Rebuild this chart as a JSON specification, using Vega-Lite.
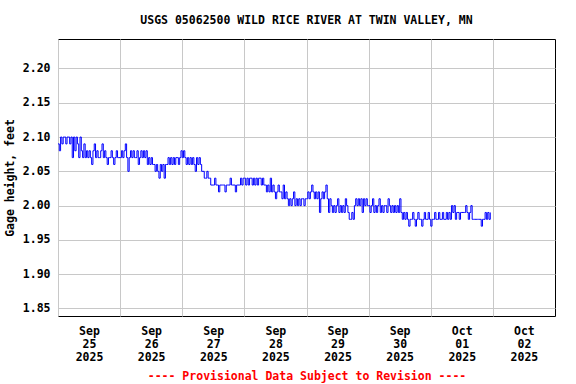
{
  "$schema": "https://vega.github.io/schema/vega-lite/v6.json",
  "width": 497,
  "height": 277,
  "autosize": "none",
  "padding": {"left": 58, "top": 39, "right": 21, "bottom": 68},
  "background": "white",
  "title": {"text": "USGS 05062500 WILD RICE RIVER AT TWIN VALLEY, MN", "font": "DejaVu Sans Mono", "fontSize": 11.5, "fontWeight": "bold", "color": "black", "anchor": "middle", "offset": 13},
  "config": {
    "view": {"stroke": "black", "strokeWidth": 1},
    "axis": {"labelFont": "DejaVu Sans Mono", "labelFontSize": 11.5, "labelFontWeight": "bold", "labelColor": "black", "titleFont": "DejaVu Sans Mono", "titleFontSize": 11.5, "titleFontWeight": "bold", "titleColor": "black", "gridColor": "#c8c8c8", "gridWidth": 1, "ticks": false, "domain": false}
  },
  "data": {"values": [
{"t":"2025-09-25T00:00","v":2.09},{"t":"2025-09-25T00:30","v":2.08},{"t":"2025-09-25T01:00","v":2.10},{"t":"2025-09-25T01:30","v":2.09},
{"t":"2025-09-25T02:00","v":2.10},{"t":"2025-09-25T02:30","v":2.10},{"t":"2025-09-25T03:00","v":2.09},{"t":"2025-09-25T03:30","v":2.10},
{"t":"2025-09-25T04:00","v":2.10},{"t":"2025-09-25T04:30","v":2.09},{"t":"2025-09-25T05:00","v":2.10},{"t":"2025-09-25T05:30","v":2.07},
{"t":"2025-09-25T06:00","v":2.10},{"t":"2025-09-25T06:30","v":2.08},{"t":"2025-09-25T07:00","v":2.10},{"t":"2025-09-25T07:30","v":2.09},
{"t":"2025-09-25T08:00","v":2.07},{"t":"2025-09-25T08:30","v":2.10},{"t":"2025-09-25T09:00","v":2.08},{"t":"2025-09-25T09:30","v":2.07},
{"t":"2025-09-25T10:00","v":2.09},{"t":"2025-09-25T10:30","v":2.07},{"t":"2025-09-25T11:00","v":2.08},{"t":"2025-09-25T11:30","v":2.07},
{"t":"2025-09-25T12:00","v":2.08},{"t":"2025-09-25T12:30","v":2.07},{"t":"2025-09-25T13:00","v":2.06},{"t":"2025-09-25T13:30","v":2.08},
{"t":"2025-09-25T14:00","v":2.09},{"t":"2025-09-25T14:30","v":2.07},{"t":"2025-09-25T15:00","v":2.08},{"t":"2025-09-25T15:30","v":2.07},
{"t":"2025-09-25T16:00","v":2.07},{"t":"2025-09-25T16:30","v":2.08},{"t":"2025-09-25T17:00","v":2.09},{"t":"2025-09-25T17:30","v":2.07},
{"t":"2025-09-25T18:00","v":2.08},{"t":"2025-09-25T18:30","v":2.07},{"t":"2025-09-25T19:00","v":2.06},{"t":"2025-09-25T19:30","v":2.07},
{"t":"2025-09-25T20:00","v":2.07},{"t":"2025-09-25T20:30","v":2.08},{"t":"2025-09-25T21:00","v":2.07},{"t":"2025-09-25T21:30","v":2.06},
{"t":"2025-09-25T22:00","v":2.07},{"t":"2025-09-25T22:30","v":2.08},{"t":"2025-09-25T23:00","v":2.07},{"t":"2025-09-25T23:30","v":2.07},
{"t":"2025-09-26T00:00","v":2.07},{"t":"2025-09-26T00:30","v":2.08},{"t":"2025-09-26T01:00","v":2.07},{"t":"2025-09-26T01:30","v":2.08},
{"t":"2025-09-26T02:00","v":2.09},{"t":"2025-09-26T02:30","v":2.07},{"t":"2025-09-26T03:00","v":2.05},{"t":"2025-09-26T03:30","v":2.07},
{"t":"2025-09-26T04:00","v":2.08},{"t":"2025-09-26T04:30","v":2.07},{"t":"2025-09-26T05:00","v":2.08},{"t":"2025-09-26T05:30","v":2.07},
{"t":"2025-09-26T06:00","v":2.07},{"t":"2025-09-26T06:30","v":2.08},{"t":"2025-09-26T07:00","v":2.06},{"t":"2025-09-26T07:30","v":2.07},
{"t":"2025-09-26T08:00","v":2.08},{"t":"2025-09-26T08:30","v":2.07},{"t":"2025-09-26T09:00","v":2.08},{"t":"2025-09-26T09:30","v":2.07},
{"t":"2025-09-26T10:00","v":2.08},{"t":"2025-09-26T10:30","v":2.06},{"t":"2025-09-26T11:00","v":2.07},{"t":"2025-09-26T11:30","v":2.06},
{"t":"2025-09-26T12:00","v":2.07},{"t":"2025-09-26T12:30","v":2.06},{"t":"2025-09-26T13:00","v":2.06},{"t":"2025-09-26T13:30","v":2.05},
{"t":"2025-09-26T14:00","v":2.06},{"t":"2025-09-26T14:30","v":2.05},{"t":"2025-09-26T15:00","v":2.04},{"t":"2025-09-26T15:30","v":2.06},
{"t":"2025-09-26T16:00","v":2.05},{"t":"2025-09-26T16:30","v":2.06},{"t":"2025-09-26T17:00","v":2.04},{"t":"2025-09-26T17:30","v":2.06},
{"t":"2025-09-26T18:00","v":2.06},{"t":"2025-09-26T18:30","v":2.07},{"t":"2025-09-26T19:00","v":2.06},{"t":"2025-09-26T19:30","v":2.07},
{"t":"2025-09-26T20:00","v":2.06},{"t":"2025-09-26T20:30","v":2.07},{"t":"2025-09-26T21:00","v":2.06},{"t":"2025-09-26T21:30","v":2.07},
{"t":"2025-09-26T22:00","v":2.07},{"t":"2025-09-26T22:30","v":2.06},{"t":"2025-09-26T23:00","v":2.07},{"t":"2025-09-26T23:30","v":2.08},
{"t":"2025-09-27T00:00","v":2.07},{"t":"2025-09-27T00:30","v":2.08},{"t":"2025-09-27T01:00","v":2.07},{"t":"2025-09-27T01:30","v":2.06},
{"t":"2025-09-27T02:00","v":2.07},{"t":"2025-09-27T02:30","v":2.06},{"t":"2025-09-27T03:00","v":2.07},{"t":"2025-09-27T03:30","v":2.06},
{"t":"2025-09-27T04:00","v":2.07},{"t":"2025-09-27T04:30","v":2.06},{"t":"2025-09-27T05:00","v":2.05},{"t":"2025-09-27T05:30","v":2.07},
{"t":"2025-09-27T06:00","v":2.06},{"t":"2025-09-27T06:30","v":2.07},{"t":"2025-09-27T07:00","v":2.06},{"t":"2025-09-27T07:30","v":2.05},
{"t":"2025-09-27T08:00","v":2.05},{"t":"2025-09-27T08:30","v":2.04},{"t":"2025-09-27T09:00","v":2.04},{"t":"2025-09-27T09:30","v":2.05},
{"t":"2025-09-27T10:00","v":2.04},{"t":"2025-09-27T10:30","v":2.04},{"t":"2025-09-27T11:00","v":2.03},{"t":"2025-09-27T11:30","v":2.03},
{"t":"2025-09-27T12:00","v":2.03},{"t":"2025-09-27T12:30","v":2.04},{"t":"2025-09-27T13:00","v":2.03},{"t":"2025-09-27T13:30","v":2.03},
{"t":"2025-09-27T14:00","v":2.02},{"t":"2025-09-27T14:30","v":2.03},{"t":"2025-09-27T15:00","v":2.03},{"t":"2025-09-27T15:30","v":2.03},
{"t":"2025-09-27T16:00","v":2.03},{"t":"2025-09-27T16:30","v":2.02},{"t":"2025-09-27T17:00","v":2.03},{"t":"2025-09-27T17:30","v":2.03},
{"t":"2025-09-27T18:00","v":2.03},{"t":"2025-09-27T18:30","v":2.04},{"t":"2025-09-27T19:00","v":2.03},{"t":"2025-09-27T19:30","v":2.03},
{"t":"2025-09-27T20:00","v":2.03},{"t":"2025-09-27T20:30","v":2.02},{"t":"2025-09-27T21:00","v":2.03},{"t":"2025-09-27T21:30","v":2.03},
{"t":"2025-09-27T22:00","v":2.03},{"t":"2025-09-27T22:30","v":2.04},{"t":"2025-09-27T23:00","v":2.03},{"t":"2025-09-27T23:30","v":2.04},
{"t":"2025-09-28T00:00","v":2.04},{"t":"2025-09-28T00:30","v":2.03},{"t":"2025-09-28T01:00","v":2.04},{"t":"2025-09-28T01:30","v":2.03},
{"t":"2025-09-28T02:00","v":2.04},{"t":"2025-09-28T02:30","v":2.04},{"t":"2025-09-28T03:00","v":2.03},{"t":"2025-09-28T03:30","v":2.04},
{"t":"2025-09-28T04:00","v":2.03},{"t":"2025-09-28T04:30","v":2.04},{"t":"2025-09-28T05:00","v":2.03},{"t":"2025-09-28T05:30","v":2.04},
{"t":"2025-09-28T06:00","v":2.04},{"t":"2025-09-28T06:30","v":2.03},{"t":"2025-09-28T07:00","v":2.04},{"t":"2025-09-28T07:30","v":2.03},
{"t":"2025-09-28T08:00","v":2.03},{"t":"2025-09-28T08:30","v":2.02},{"t":"2025-09-28T09:00","v":2.03},{"t":"2025-09-28T09:30","v":2.02},
{"t":"2025-09-28T10:00","v":2.04},{"t":"2025-09-28T10:30","v":2.02},{"t":"2025-09-28T11:00","v":2.03},{"t":"2025-09-28T11:30","v":2.02},
{"t":"2025-09-28T12:00","v":2.01},{"t":"2025-09-28T12:30","v":2.02},{"t":"2025-09-28T13:00","v":2.03},{"t":"2025-09-28T13:30","v":2.02},
{"t":"2025-09-28T14:00","v":2.02},{"t":"2025-09-28T14:30","v":2.01},{"t":"2025-09-28T15:00","v":2.03},{"t":"2025-09-28T15:30","v":2.01},
{"t":"2025-09-28T16:00","v":2.02},{"t":"2025-09-28T16:30","v":2.01},{"t":"2025-09-28T17:00","v":2.00},{"t":"2025-09-28T17:30","v":2.01},
{"t":"2025-09-28T18:00","v":2.00},{"t":"2025-09-28T18:30","v":2.01},{"t":"2025-09-28T19:00","v":2.02},{"t":"2025-09-28T19:30","v":2.00},
{"t":"2025-09-28T20:00","v":2.01},{"t":"2025-09-28T20:30","v":2.00},{"t":"2025-09-28T21:00","v":2.01},{"t":"2025-09-28T21:30","v":2.00},
{"t":"2025-09-28T22:00","v":2.01},{"t":"2025-09-28T22:30","v":2.01},{"t":"2025-09-28T23:00","v":2.00},{"t":"2025-09-28T23:30","v":2.01},
{"t":"2025-09-29T00:00","v":2.01},{"t":"2025-09-29T00:30","v":2.02},{"t":"2025-09-29T01:00","v":2.01},{"t":"2025-09-29T01:30","v":2.02},
{"t":"2025-09-29T02:00","v":2.03},{"t":"2025-09-29T02:30","v":2.02},{"t":"2025-09-29T03:00","v":2.01},{"t":"2025-09-29T03:30","v":2.02},
{"t":"2025-09-29T04:00","v":2.01},{"t":"2025-09-29T04:30","v":2.02},{"t":"2025-09-29T05:00","v":1.99},{"t":"2025-09-29T05:30","v":2.01},
{"t":"2025-09-29T06:00","v":2.02},{"t":"2025-09-29T06:30","v":2.01},{"t":"2025-09-29T07:00","v":2.02},{"t":"2025-09-29T07:30","v":2.03},
{"t":"2025-09-29T08:00","v":2.01},{"t":"2025-09-29T08:30","v":1.99},{"t":"2025-09-29T09:00","v":2.01},{"t":"2025-09-29T09:30","v":2.00},
{"t":"2025-09-29T10:00","v":1.99},{"t":"2025-09-29T10:30","v":2.00},{"t":"2025-09-29T11:00","v":1.99},{"t":"2025-09-29T11:30","v":2.00},
{"t":"2025-09-29T12:00","v":2.01},{"t":"2025-09-29T12:30","v":1.99},{"t":"2025-09-29T13:00","v":2.00},{"t":"2025-09-29T13:30","v":1.99},
{"t":"2025-09-29T14:00","v":2.00},{"t":"2025-09-29T14:30","v":1.99},{"t":"2025-09-29T15:00","v":2.01},{"t":"2025-09-29T15:30","v":2.00},
{"t":"2025-09-29T16:00","v":1.99},{"t":"2025-09-29T16:30","v":1.98},{"t":"2025-09-29T17:00","v":1.98},{"t":"2025-09-29T17:30","v":1.99},
{"t":"2025-09-29T18:00","v":1.98},{"t":"2025-09-29T18:30","v":2.00},{"t":"2025-09-29T19:00","v":2.01},{"t":"2025-09-29T19:30","v":2.00},
{"t":"2025-09-29T20:00","v":2.01},{"t":"2025-09-29T20:30","v":2.00},{"t":"2025-09-29T21:00","v":2.01},{"t":"2025-09-29T21:30","v":1.99},
{"t":"2025-09-29T22:00","v":2.01},{"t":"2025-09-29T22:30","v":2.00},{"t":"2025-09-29T23:00","v":2.01},{"t":"2025-09-29T23:30","v":2.00},
{"t":"2025-09-30T00:00","v":2.00},{"t":"2025-09-30T00:30","v":1.99},{"t":"2025-09-30T01:00","v":2.00},{"t":"2025-09-30T01:30","v":2.01},
{"t":"2025-09-30T02:00","v":1.99},{"t":"2025-09-30T02:30","v":2.00},{"t":"2025-09-30T03:00","v":1.99},{"t":"2025-09-30T03:30","v":2.00},
{"t":"2025-09-30T04:00","v":2.01},{"t":"2025-09-30T04:30","v":1.99},{"t":"2025-09-30T05:00","v":2.00},{"t":"2025-09-30T05:30","v":1.99},
{"t":"2025-09-30T06:00","v":2.00},{"t":"2025-09-30T06:30","v":2.00},{"t":"2025-09-30T07:00","v":1.99},{"t":"2025-09-30T07:30","v":2.01},
{"t":"2025-09-30T08:00","v":2.00},{"t":"2025-09-30T08:30","v":1.99},{"t":"2025-09-30T09:00","v":2.00},{"t":"2025-09-30T09:30","v":1.99},
{"t":"2025-09-30T10:00","v":2.00},{"t":"2025-09-30T10:30","v":1.99},{"t":"2025-09-30T11:00","v":2.00},{"t":"2025-09-30T11:30","v":1.99},
{"t":"2025-09-30T12:00","v":2.01},{"t":"2025-09-30T12:30","v":1.99},{"t":"2025-09-30T13:00","v":1.98},{"t":"2025-09-30T13:30","v":1.99},
{"t":"2025-09-30T14:00","v":1.98},{"t":"2025-09-30T14:30","v":1.99},{"t":"2025-09-30T15:00","v":1.98},{"t":"2025-09-30T15:30","v":1.97},
{"t":"2025-09-30T16:00","v":1.98},{"t":"2025-09-30T16:30","v":1.98},{"t":"2025-09-30T17:00","v":1.99},{"t":"2025-09-30T17:30","v":1.98},
{"t":"2025-09-30T18:00","v":1.97},{"t":"2025-09-30T18:30","v":1.98},{"t":"2025-09-30T19:00","v":1.99},{"t":"2025-09-30T19:30","v":1.98},
{"t":"2025-09-30T20:00","v":1.98},{"t":"2025-09-30T20:30","v":1.97},{"t":"2025-09-30T21:00","v":1.98},{"t":"2025-09-30T21:30","v":1.99},
{"t":"2025-09-30T22:00","v":1.98},{"t":"2025-09-30T22:30","v":1.98},{"t":"2025-09-30T23:00","v":1.99},{"t":"2025-09-30T23:30","v":1.98},
{"t":"2025-10-01T00:00","v":1.97},{"t":"2025-10-01T00:30","v":1.98},{"t":"2025-10-01T01:00","v":1.98},{"t":"2025-10-01T01:30","v":1.99},
{"t":"2025-10-01T02:00","v":1.98},{"t":"2025-10-01T02:30","v":1.98},{"t":"2025-10-01T03:00","v":1.99},{"t":"2025-10-01T03:30","v":1.98},
{"t":"2025-10-01T04:00","v":1.98},{"t":"2025-10-01T04:30","v":1.99},{"t":"2025-10-01T05:00","v":1.98},{"t":"2025-10-01T05:30","v":1.98},
{"t":"2025-10-01T06:00","v":1.99},{"t":"2025-10-01T06:30","v":1.98},{"t":"2025-10-01T07:00","v":1.99},{"t":"2025-10-01T07:30","v":1.98},
{"t":"2025-10-01T08:00","v":2.00},{"t":"2025-10-01T08:30","v":1.99},{"t":"2025-10-01T09:00","v":2.00},{"t":"2025-10-01T09:30","v":1.98},
{"t":"2025-10-01T10:00","v":1.99},{"t":"2025-10-01T10:30","v":1.99},{"t":"2025-10-01T11:00","v":1.98},{"t":"2025-10-01T11:30","v":1.99},
{"t":"2025-10-01T12:00","v":1.99},{"t":"2025-10-01T12:30","v":1.99},{"t":"2025-10-01T13:00","v":1.99},{"t":"2025-10-01T13:30","v":2.00},
{"t":"2025-10-01T14:00","v":1.99},{"t":"2025-10-01T14:30","v":1.98},{"t":"2025-10-01T15:00","v":1.99},{"t":"2025-10-01T15:30","v":2.00},
{"t":"2025-10-01T16:00","v":1.98},{"t":"2025-10-01T16:30","v":1.98},{"t":"2025-10-01T17:00","v":1.98},{"t":"2025-10-01T17:30","v":1.98},
{"t":"2025-10-01T18:00","v":1.98},{"t":"2025-10-01T18:30","v":1.98},{"t":"2025-10-01T19:00","v":1.98},{"t":"2025-10-01T19:30","v":1.97},
{"t":"2025-10-01T20:00","v":1.98},{"t":"2025-10-01T20:30","v":1.98},{"t":"2025-10-01T21:00","v":1.99},{"t":"2025-10-01T21:30","v":1.98},
{"t":"2025-10-01T22:00","v":1.99},{"t":"2025-10-01T22:30","v":1.98},{"t":"2025-10-01T23:00","v":1.99}
  ]},
  "mark": {"type": "line", "color": "#0000ff", "strokeWidth": 1, "interpolate": "step-after"},
  "encoding": {
    "x": {"field": "t", "type": "temporal",
      "scale": {"domain": [{"year": 2025, "month": 9, "date": 25}, {"year": 2025, "month": 10, "date": 3}], "nice": false},
      "axis": {"values": [{"year": 2025, "month": 9, "date": 25}, {"year": 2025, "month": 9, "date": 26}, {"year": 2025, "month": 9, "date": 27}, {"year": 2025, "month": 9, "date": 28}, {"year": 2025, "month": 9, "date": 29}, {"year": 2025, "month": 9, "date": 30}, {"year": 2025, "month": 10, "date": 1}, {"year": 2025, "month": 10, "date": 2}],
        "labelExpr": "[timeFormat(datum.value, '%b'), timeFormat(datum.value, '%d'), timeFormat(datum.value, '%Y')]",
        "labelOffset": 31, "labelPadding": 9, "labelLineHeight": 13, "labelFlush": false, "labelOverlap": false, "labelBound": false,
        "title": "---- Provisional Data Subject to Revision ----", "titleColor": "#ff0000", "titlePadding": 8}
    },
    "y": {"field": "v", "type": "quantitative",
      "scale": {"domain": [1.839, 2.243], "nice": false, "zero": false},
      "axis": {"values": [1.85, 1.9, 1.95, 2.0, 2.05, 2.1, 2.15, 2.2], "format": ".2f", "labelPadding": 8, "title": "Gage height, feet", "titlePadding": 7}
    }
  }
}
